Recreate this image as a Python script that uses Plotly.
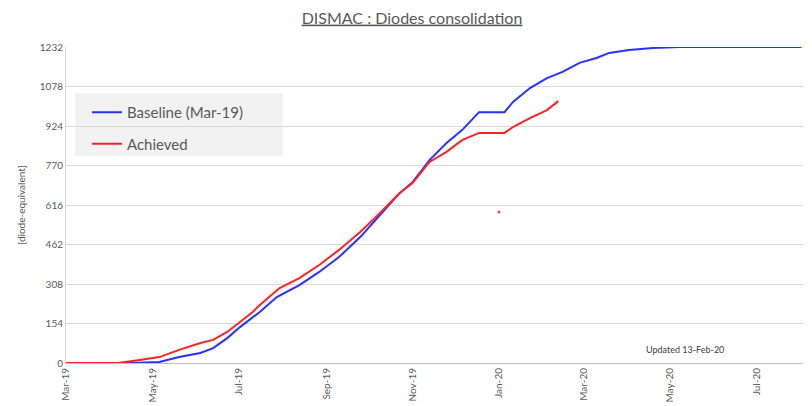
import plotly.graph_objects as go

# ---- data ----
baseline_dates = ["2019-03-01", "2019-04-15", "2019-05-06", "2019-05-20", "2019-06-04", "2019-06-13",
                  "2019-06-23", "2019-07-02", "2019-07-16", "2019-07-28", "2019-08-13", "2019-08-27",
                  "2019-09-10", "2019-09-25", "2019-10-09", "2019-10-23", "2019-11-01", "2019-11-13",
                  "2019-11-25", "2019-12-06", "2019-12-18", "2020-01-05", "2020-01-11", "2020-01-23",
                  "2020-02-04", "2020-02-15", "2020-02-27", "2020-03-10", "2020-03-19", "2020-04-02",
                  "2020-04-19", "2020-05-08", "2020-08-02"]
baseline_values = [0, 0, 4, 23, 39, 58,
                   97, 140, 199, 257, 304, 355,
                   413, 491, 577, 663, 705, 791,
                   858, 908, 978, 978, 1018, 1072,
                   1111, 1135, 1170, 1189, 1209, 1220,
                   1228, 1232, 1232]

achieved_dates = ["2019-03-01", "2019-04-08", "2019-04-22", "2019-05-06", "2019-05-20", "2019-06-04",
                  "2019-06-13", "2019-06-23", "2019-07-02", "2019-07-11", "2019-07-16", "2019-07-30",
                  "2019-08-13", "2019-08-27", "2019-09-10", "2019-09-25", "2019-10-09", "2019-10-23",
                  "2019-11-01", "2019-11-13", "2019-11-25", "2019-12-06", "2019-12-18", "2020-01-05",
                  "2020-01-11", "2020-01-23", "2020-02-04", "2020-02-12"]
achieved_values = [0, 1, 12, 23, 51, 78,
                   90, 121, 160, 199, 226, 292,
                   331, 382, 441, 511, 585, 663,
                   702, 784, 823, 869, 897, 897,
                   920, 955, 986, 1021]

stray_dates = ["2020-01-01"]
stray_values = [589]

y_ticks = [0, 154, 308, 462, 616, 770, 924, 1078, 1232]

title_text = "DISMAC : Diodes consolidation"
y_title = "[diode-equivalent]"
note_text = "Updated 13-Feb-20"

FONT = "Lato, 'Open Sans', sans-serif"
GREY = "#595959"

# page body has an 8px margin, so figure coordinates = screen - 8
W, H = 804, 398
L, T, R, B = 58, 39, 9, 43
PW, PH = W - L - R, H - T - B


def px_x(sx):
    return (sx - 8 - L) / PW


def px_y(sy):
    return (H - B - (sy - 8)) / PH


fig = go.Figure()
fig.add_trace(go.Scatter(x=baseline_dates, y=baseline_values, mode="lines",
                         name="Baseline (Mar-19)", legendgroup="b",
                         line=dict(color="#2433ff", width=2)))
fig.add_trace(go.Scatter(x=achieved_dates, y=achieved_values, mode="lines",
                         name="Achieved", legendgroup="a",
                         line=dict(color="#ff2222", width=2)))
fig.add_trace(go.Scatter(x=stray_dates, y=stray_values, mode="markers",
                         showlegend=False, marker=dict(color="#ff4444", size=3)))

fig.update_layout(
    width=W, height=H,
    margin=dict(l=L, r=R, t=T, b=B, autoexpand=False),
    paper_bgcolor="white", plot_bgcolor="white",
    font=dict(family=FONT, color=GREY, size=10),
    title=dict(text="<u>" + title_text + "</u>", x=(412 - 8) / W, xref="container", xanchor="center",
               y=1 - (18 - 8) / H, yref="container", yanchor="middle",
               font=dict(size=16, color=GREY, family=FONT)),
    showlegend=True,
    legend=dict(x=px_x(87), y=px_y(96), xanchor="left", yanchor="top",
                bgcolor="rgba(0,0,0,0)", font=dict(size=15, color=GREY, family=FONT),
                tracegroupgap=9, itemwidth=30),
    xaxis=dict(type="date", range=["2019-03-01", "2020-08-03"], automargin=False,
               tick0="2019-03-01", dtick="M2", tickformat="%b-%y", tickangle=-90,
               showgrid=False, showline=True, linecolor="#bfbfbf", linewidth=1,
               ticks="", tickfont=dict(size=10, color=GREY), zeroline=False),
    yaxis=dict(range=[0, 1232], tickvals=y_ticks, ticktext=[str(v) for v in y_ticks],
               automargin=False,
               showgrid=True, gridcolor="#d9d9d9", gridwidth=1,
               showline=True, linecolor="#d9d9d9", zeroline=False,
               tickfont=dict(size=10, color=GREY),
               title=dict(text=y_title, font=dict(size=10, color=GREY), standoff=12)),
    shapes=[dict(type="rect", xref="paper", yref="paper",
                 x0=px_x(75), x1=px_x(283), y0=px_y(156), y1=px_y(93),
                 fillcolor="#f2f2f2", line=dict(width=0), layer="below")],
    annotations=[dict(text=note_text, xref="paper", yref="paper",
                      x=px_x(685), y=px_y(349),
                      xanchor="center", yanchor="middle", showarrow=False,
                      font=dict(size=9, color="#404040", family=FONT))],
)

fig.write_html("out.html")
